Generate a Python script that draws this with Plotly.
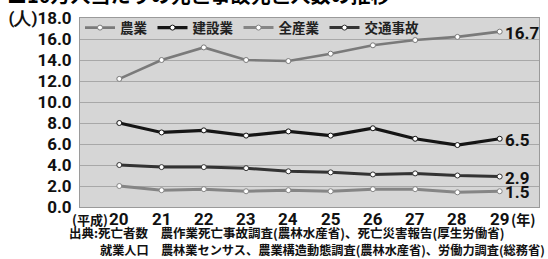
import plotly.graph_objects as go

years = ["20", "21", "22", "23", "24", "25", "26", "27", "28", "29"]
agri = [12.2, 14.0, 15.2, 14.0, 13.9, 14.6, 15.4, 15.9, 16.2, 16.7]
constr = [8.0, 7.1, 7.3, 6.8, 7.2, 6.8, 7.5, 6.5, 5.9, 6.5]
allind = [2.0, 1.6, 1.7, 1.5, 1.6, 1.5, 1.7, 1.7, 1.4, 1.5]
traffic = [4.0, 3.8, 3.8, 3.7, 3.4, 3.3, 3.1, 3.2, 3.0, 2.9]

names = ["農業", "建設業", "全産業", "交通事故"]
colors = ["#7a7a7a", "#151515", "#858585", "#333333"]
widths = [2.6, 3.2, 3.0, 3.0]
series = [agri, constr, allind, traffic]
yticks = [0, 2, 4, 6, 8, 10, 12, 14, 16, 18]

JP = "Noto Sans CJK JP"
NUM = "Roboto"
xs = list(range(len(years)))

fig = go.Figure()
for nm, vals, c, w in zip(names, series, colors, widths):
    fig.add_trace(go.Scatter(
        x=xs, y=vals, name=nm, mode="lines+markers",
        line=dict(color=c, width=w),
        marker=dict(size=5, color="white", line=dict(color=c, width=1)),
    ))
    fig.add_annotation(x=xs[-1], y=vals[-1], text=f"{vals[-1]:.1f}", showarrow=False,
                       xanchor="left", yanchor="middle", xshift=3, yshift=-1,
                       font=dict(family=NUM, size=17, color="#111", weight="bold"))

ticktext = [f"{v:.1f}" for v in yticks]
ticktext[-1] = "(人)" + ticktext[-1]

fig.update_layout(
    width=548, height=259,
    margin=dict(l=75, r=8, t=17, b=52),
    paper_bgcolor="white", plot_bgcolor="#d6d6d6",
    font=dict(family=JP, color="#111"),
    showlegend=True,
    legend=dict(orientation="h", x=0.0, y=1.03, xanchor="left", yanchor="top",
                bgcolor="rgba(0,0,0,0)", font=dict(family=JP, size=13.5, color="#222", weight="bold"),
                itemwidth=30),
    xaxis=dict(range=[-0.93, 9.93], tickmode="array", tickvals=xs, ticktext=[""] * len(xs),
               showgrid=False, zeroline=False, showline=True, linecolor="#9a9a9a", mirror=True,
               ticks=""),
    yaxis=dict(range=[0, 18], tickmode="array", tickvals=yticks, ticktext=ticktext,
               showgrid=True, gridcolor="#a8a8a8", gridwidth=1, zeroline=False,
               showline=True, linecolor="#9a9a9a", mirror=True,
               tickfont=dict(family=NUM, size=17, color="#111", weight="bold"), ticks="",
               ticklabelstandoff=4),
)

# x tick labels as annotations
for i, yl in zip(xs, years):
    fig.add_annotation(x=i, xref="x", yref="paper", y=0, yanchor="middle", xanchor="center",
                       yshift=-12, text=yl, showarrow=False,
                       font=dict(family=NUM, size=17, color="#111", weight="bold"))

# era / unit labels beside x ticks
fig.add_annotation(x=0, xref="x", yref="paper", y=0, xanchor="right", yanchor="middle",
                   text="(平成)", showarrow=False, xshift=-9, yshift=-12,
                   font=dict(family=JP, size=13, color="#111", weight="bold"))
fig.add_annotation(x=xs[-1], xref="x", yref="paper", y=0, xanchor="left", yanchor="middle",
                   text="(年)", showarrow=False, xshift=9, yshift=-12,
                   font=dict(family=JP, size=14, color="#111", weight="bold"))

# title (cut off at top)
fig.add_annotation(xref="paper", yref="paper", x=0, y=1, xanchor="left", yanchor="bottom",
                   xshift=-75, yshift=7,
                   text="■10万人当たりの死亡事故死亡人数の推移", showarrow=False,
                   font=dict(family=JP, size=20, color="#000", weight="bold"))

# source
fig.add_annotation(xref="paper", yref="paper", x=0, y=0, xanchor="left", yanchor="middle",
                   xshift=-13, yshift=-25,
                   text="出典:死亡者数　農作業死亡事故調査(農林水産省)、死亡災害報告(厚生労働省)",
                   showarrow=False, font=dict(family=JP, size=12.5, color="#111", weight="bold"))
fig.add_annotation(xref="paper", yref="paper", x=0, y=0, xanchor="left", yanchor="middle",
                   xshift=18, yshift=-43,
                   text="就業人口　農林業センサス、農業構造動態調査(農林水産省)、労働力調査(総務省)",
                   showarrow=False, font=dict(family=JP, size=12.2, color="#111", weight="bold"))

fig.write_html("out.html", config={"displayModeBar": False},
               post_script="document.body.style.margin='0';document.body.style.overflow='hidden';")
